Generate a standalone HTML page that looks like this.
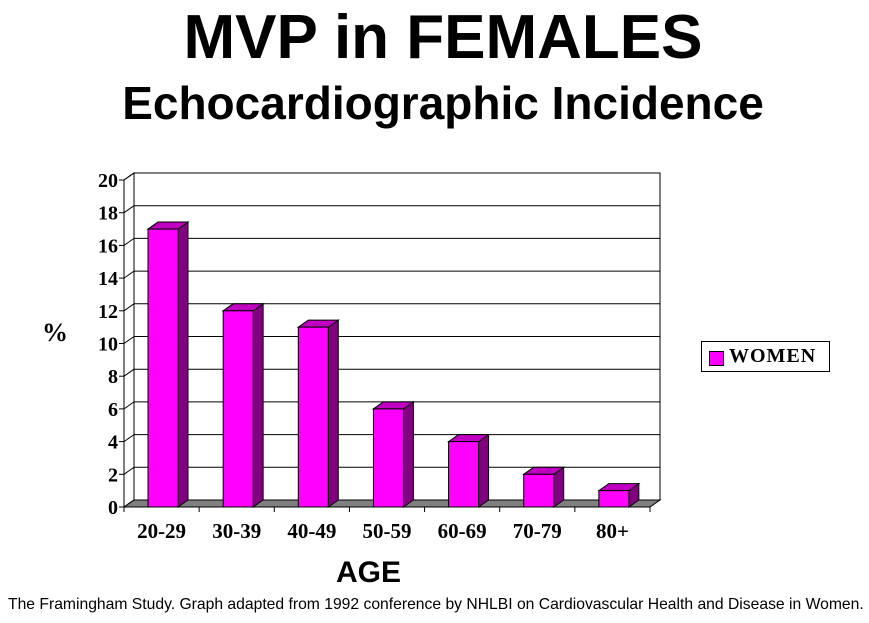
<!DOCTYPE html>
<html><head><meta charset="utf-8"><style>
body{margin:0;background:#fff;width:869px;height:623px;overflow:hidden;position:relative;font-family:"Liberation Sans",Arial,sans-serif}
.t{position:absolute;white-space:nowrap}
</style></head><body>
<div class="t" style="left:0;width:886px;text-align:center;top:2px;font-size:62px;font-weight:bold">MVP in FEMALES</div>
<div class="t" style="left:0;width:886px;text-align:center;top:76px;font-size:46px;font-weight:bold">Echocardiographic Incidence</div>
<div class="t" style="left:42px;top:318px;font-size:26px;font-weight:bold;font-family:'Liberation Serif',serif">%</div>
<div class="t" style="left:336px;top:556px;font-size:30px;font-weight:bold">AGE</div>
<div class="t" style="left:8px;top:596px;font-size:15.7px">The Framingham Study. Graph adapted from 1992 conference by NHLBI on Cardiovascular Health and Disease in Women.</div>
<div style="position:absolute;left:701px;top:341px;width:127px;height:29px;border:1px solid #000">
<div style="position:absolute;left:7px;top:9px;width:13px;height:13px;background:#f0f;border:1px solid #000"></div>
<div class="t" style="left:27px;top:3px;font-size:20px;font-weight:bold;font-family:'Liberation Serif',serif;letter-spacing:1px">WOMEN</div>
</div>
<svg id="chart" width="869" height="623" style="position:absolute;left:0;top:0"></svg>
<script>
const categories=["20-29","30-39","40-49","50-59","60-69","70-79","80+"];
const values=[17,12,11,6,4,2,1];
const yTicks=[0,2,4,6,8,10,12,14,16,18,20];
const NS="http://www.w3.org/2000/svg";
const svg=document.getElementById('chart');
const x0=124,x1=650,y0=507,yTop=180,dx=10,dy=-7,ymax=20;
const y=v=>y0-(y0-yTop)*v/ymax;
const band=(x1-x0)/categories.length;
function mk(tag,attrs){const e=document.createElementNS(NS,tag);for(const k in attrs)e.setAttribute(k,attrs[k]);svg.appendChild(e);return e;}
let w=mk('rect',{x:x0+dx,y:yTop+dy,width:x1-x0,height:y0-yTop,fill:'#fff',stroke:'#000','stroke-width':1});


let sw=mk('polygon',{points:`${x0},${y0} ${x0},${yTop} ${x0+dx},${yTop+dy} ${x0+dx},${y0+dy}`,fill:'#fff',stroke:'#000','stroke-width':1});


yTicks.forEach(t=>{
  const yy=y(t);
  if(t>0&&t<ymax){let g=mk('line',{x1:x0+dx,y1:yy+dy,x2:x1+dx,y2:yy+dy,stroke:'#000','stroke-width':1});
  
  }
  let d=mk('line',{x1:x0,y1:yy,x2:x0+dx,y2:yy+dy,stroke:'#000','stroke-width':1});
  
  
  let tk=mk('line',{x1:x0-5,y1:yy,x2:x0,y2:yy,stroke:'#000'});
  
  
  let l=mk('text',{x:x0-6,y:yy+7,'text-anchor':'end','font-family':'Liberation Serif,serif','font-weight':'bold','font-size':'20'});
  l.textContent=t;
  
  
});
let fl=mk('polygon',{points:`${x0},${y0} ${x1},${y0} ${x1+dx},${y0+dy} ${x0+dx},${y0+dy}`,fill:'#808080',stroke:'#000','stroke-width':1});


let ax=mk('line',{x1:x0,y1:y0,x2:x1,y2:y0,stroke:'#000'});


let ay=mk('line',{x1:x0,y1:y0,x2:x0,y2:yTop,stroke:'#000'});


categories.forEach((c,i)=>{
  const bx=x0+i*band+24,bw=30,top=y(values[i]);
  let tk=mk('line',{x1:x0+i*band,y1:y0,x2:x0+i*band,y2:y0+5,stroke:'#000'});
  
  
  let side=mk('polygon',{points:`${bx+bw},${y0} ${bx+bw},${top} ${bx+bw+dx},${top+dy} ${bx+bw+dx},${y0+dy}`,fill:'#800080',stroke:'#000','stroke-width':1});
  
  
  let tp=mk('polygon',{points:`${bx},${top} ${bx+bw},${top} ${bx+bw+dx},${top+dy} ${bx+dx},${top+dy}`,fill:'#c000c0',stroke:'#000','stroke-width':1});
  
  
  let fr=mk('rect',{x:bx,y:top,width:bw,height:y0-top,fill:'#ff00ff',stroke:'#000','stroke-width':1});
  
  
  let l=mk('text',{x:x0+i*band+band/2,y:538,'text-anchor':'middle','font-family':'Liberation Serif,serif','font-weight':'bold','font-size':'21'});
  l.textContent=c;
  
  
});
let lt=mk('line',{x1:x1,y1:y0,x2:x1,y2:y0+5,stroke:'#000'});


</script>
</body></html>
